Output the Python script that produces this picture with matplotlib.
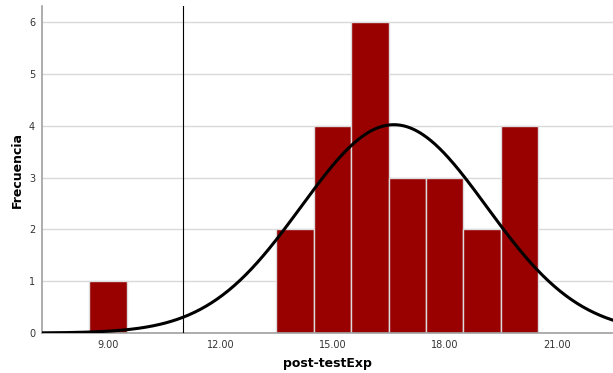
import numpy as np
import matplotlib
matplotlib.use("Agg")
import matplotlib.pyplot as plt

# Data
bin_centers = [9, 14, 15, 16, 17, 18, 19, 20]
counts = [1, 2, 4, 6, 3, 3, 2, 4]
x_ticks = [9, 12, 15, 18, 21]
x_tick_labels = ["9.00", "12.00", "15.00", "18.00", "21.00"]
y_ticks = [0, 1, 2, 3, 4, 5, 6]
ref_line_x = 11.0

vals = np.repeat(bin_centers, counts)
n = len(vals)
mu = vals.mean()
sd = vals.std(ddof=1)

fig = plt.figure(figsize=(6.13, 3.73), dpi=100)
ax = fig.add_axes([42/613, 40/373, 1 - 42/613, (333-6)/373])

ax.set_axisbelow(True)
ax.yaxis.grid(True, color="#d9d9d9", linewidth=1)
ax.bar(bin_centers, counts, width=1.0, color="#990000", edgecolor="#dcdcdc", linewidth=1.0, zorder=2)

xs = np.linspace(7.2, 22.5, 400)
ys = n * 1.0 / (sd * np.sqrt(2*np.pi)) * np.exp(-0.5*((xs-mu)/sd)**2)
ax.plot(xs, ys, color="black", linewidth=2.2, zorder=4)

ax.axvline(ref_line_x, color="black", linewidth=0.8, zorder=3)

ax.set_xlim(7.23, 22.5)
ax.set_ylim(0, 6.31)
ax.set_xticks(x_ticks)
ax.set_xticklabels(x_tick_labels)
ax.set_yticks(y_ticks)
ax.tick_params(axis="both", length=0, labelsize=7, colors="#333333", pad=5)
for s in ["top", "right"]:
    ax.spines[s].set_visible(False)
for s in ["left", "bottom"]:
    ax.spines[s].set_color("#a0a0a0")
    ax.spines[s].set_linewidth(1.2)

ax.set_xlabel("post-testExp", fontsize=9, fontweight="bold")
ax.set_ylabel("Frecuencia", fontsize=9, fontweight="bold")
ax.xaxis.set_label_coords(0.5, -0.092)
ax.yaxis.set_label_coords(-0.044, 0.5)
ax.xaxis.label.set_va("center")
ax.yaxis.label.set_va("center")

fig.savefig("out.png", dpi=100)
